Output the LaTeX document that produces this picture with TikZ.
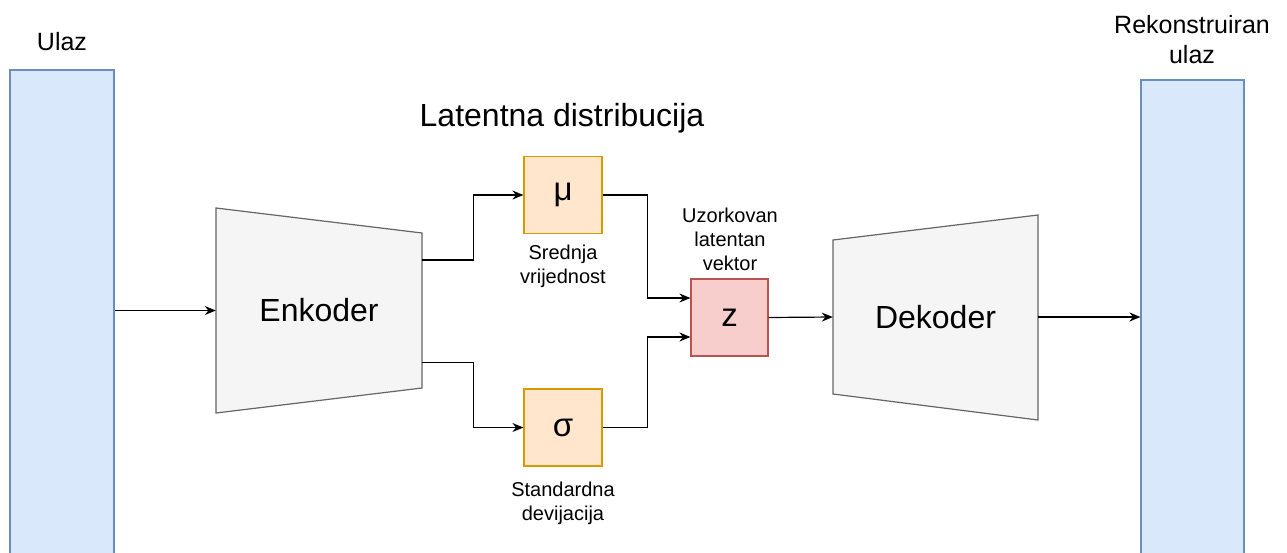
\documentclass[tikz,border=0pt]{standalone}
\usepackage{fontspec}
\setmainfont{Liberation Sans}
\usetikzlibrary{arrows.meta,calc}

\definecolor{layerfill}{HTML}{DAE8FC}
\definecolor{layerline}{HTML}{6C8EBF}
\definecolor{distfill}{HTML}{FFE6CC}
\definecolor{distline}{HTML}{D79B00}
\definecolor{zfill}{HTML}{F8CECC}
\definecolor{zline}{HTML}{B85450}
\definecolor{coderfill}{HTML}{F5F5F5}
\definecolor{coderline}{HTML}{666666}

\tikzset{
  layer/.style={draw=layerline, fill=layerfill, line width=1.2pt},
  coder/.style={draw=coderline, fill=coderfill, line width=1.2pt},
  distbox/.style={draw=distline, fill=distfill, line width=1.2pt, minimum width=78pt, minimum height=77pt, font=\fontsize{33}{36}\selectfont},
  zbox/.style={draw=zline, fill=zfill, line width=1.2pt, minimum width=77pt, minimum height=77pt, font=\fontsize{33}{36}\selectfont},
  big/.style={font=\fontsize{32}{36}\selectfont},
  small/.style={align=center, font=\fontsize{20}{24}\selectfont},
  label/.style={align=center, font=\fontsize{25}{30}\selectfont},
  arr/.style={-{Stealth[length=11pt,width=9pt]}, line width=1.2pt}
}

\begin{document}
\begin{tikzpicture}[x=1pt,y=-1pt]
\useasboundingbox (0,0) rectangle (1287,552);

% ulaz i izlaz
\node[layer, minimum width=104pt, minimum height=530pt] (inp) at (62,335) {};
\node[layer, minimum width=103pt, minimum height=520pt] (out) at (1192.5,340) {};
\node[label] (inplabel) at (62,42) {Ulaz};
\node[label] (outlabel) at (1192,40) {Rekonstruiran\\ulaz};

% enkoder i dekoder
\draw[coder] (216,208) -- (422,233) -- (422,388) -- (216,413) -- cycle;
\node[big, minimum width=206pt, minimum height=205pt] (enc) at (319,310.5) {Enkoder};
\draw[coder] (833,240) -- (1038,215) -- (1038,420) -- (833,394) -- cycle;
\node[big, minimum width=205pt, minimum height=205pt] (dec) at (935.5,317) {Dekoder};

% latentna distribucija
\node[big] (distlabel) at (562,118) {Latentna distribucija};
\node[distbox] (mu) at (563,195) {μ};
\node[distbox] (sig) at (563,427.5) {σ};
\node[small] (mulabel) at (563,266) {Srednja\\vrijednost};
\node[small] (siglabel) at (563,503.5) {Standardna\\devijacija};
\node[zbox] (z) at (729.5,317.5) {z};
\node[small] (zlabel) at (730,239) {Uzorkovan\\latentan\\vektor};

% veze
\draw[arr] (inp.east |- enc.west) -- (enc.west);
\draw[arr] ($(enc.east)+(0,-50.5)$) -- ++(51,0) |- (mu.west);
\draw[arr] ($(enc.east)+(0,52)$) -- ++(51,0) |- (sig.west);
\draw[arr] (mu.east) -- ++(45,0) |- ($(z.west)+(0,-19.5)$);
\draw[arr] (sig.east) -- ++(45,0) |- ($(z.west)+(0,19.5)$);
\draw[arr] (z.east) -- (dec.west);
\draw[arr] (dec.east) -- (out.west |- dec.east);

\end{tikzpicture}
\end{document}
